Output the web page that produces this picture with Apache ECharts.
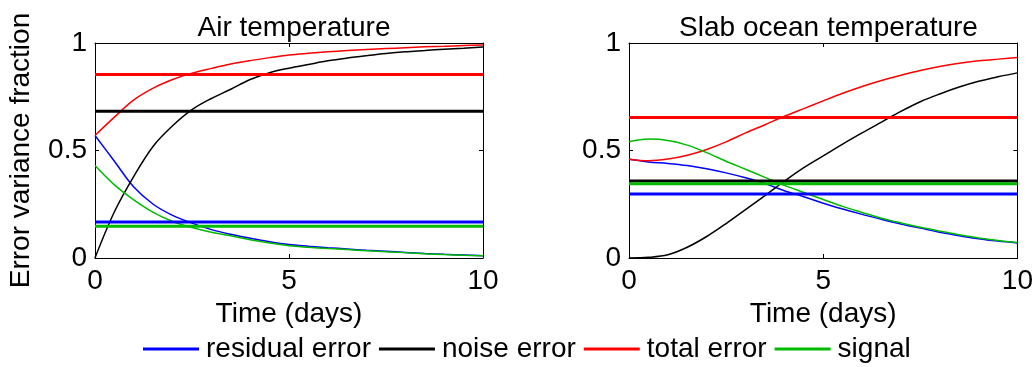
<!DOCTYPE html>
<html>
<head>
<meta charset="utf-8">
<script src="https://cdn.jsdelivr.net/npm/echarts@6/dist/echarts.min.js"></script>
<style>
  html, body { margin: 0; padding: 0; background: #ffffff; }
  #chart { width: 1036px; height: 367px; }
</style>
</head>
<body>
<div id="chart"></div>
<script>
// Forecast time (days)
const days = [0, 0.5, 1, 1.5, 2, 2.5, 3, 3.5, 4, 4.5, 5, 5.5, 6, 6.5, 7, 7.5, 8, 8.5, 9, 9.5, 10];

// Air temperature: error variance fractions
const airResidual = [0.57, 0.45, 0.33, 0.25, 0.198, 0.162, 0.132, 0.11, 0.092, 0.076, 0.063, 0.055, 0.048, 0.042, 0.036, 0.031, 0.026, 0.021, 0.017, 0.014, 0.011];
const airNoise    = [0, 0.215, 0.38, 0.52, 0.615, 0.69, 0.742, 0.785, 0.83, 0.862, 0.883, 0.9, 0.917, 0.93, 0.941, 0.951, 0.959, 0.965, 0.971, 0.976, 0.981];
const airTotal    = [0.57, 0.655, 0.735, 0.79, 0.83, 0.86, 0.882, 0.902, 0.918, 0.932, 0.944, 0.952, 0.959, 0.965, 0.97, 0.974, 0.978, 0.982, 0.985, 0.988, 0.991];
const airSignal   = [0.43, 0.34, 0.27, 0.212, 0.17, 0.142, 0.12, 0.103, 0.085, 0.07, 0.057, 0.05, 0.044, 0.039, 0.034, 0.029, 0.025, 0.02, 0.016, 0.013, 0.011];
// Time-mean levels: residual, noise, total, signal
const airMeans    = [0.168, 0.683, 0.853, 0.148];

// Slab ocean temperature: error variance fractions
const oceanResidual = [0.459, 0.447, 0.44, 0.43, 0.415, 0.396, 0.373, 0.346, 0.313, 0.285, 0.255, 0.228, 0.203, 0.18, 0.158, 0.139, 0.12, 0.104, 0.09, 0.079, 0.07];
const oceanNoise    = [0, 0.003, 0.015, 0.05, 0.1, 0.16, 0.225, 0.29, 0.357, 0.42, 0.475, 0.53, 0.582, 0.632, 0.682, 0.727, 0.763, 0.795, 0.822, 0.843, 0.861];
const oceanTotal    = [0.459, 0.452, 0.46, 0.478, 0.505, 0.54, 0.582, 0.62, 0.659, 0.695, 0.731, 0.766, 0.798, 0.826, 0.85, 0.872, 0.891, 0.906, 0.917, 0.925, 0.932];
const oceanSignal   = [0.541, 0.553, 0.547, 0.525, 0.49, 0.45, 0.413, 0.375, 0.338, 0.305, 0.272, 0.24, 0.212, 0.185, 0.163, 0.143, 0.125, 0.108, 0.093, 0.081, 0.072];
const oceanMeans    = [0.298, 0.358, 0.654, 0.345];

const seriesNames  = ['residual error', 'noise error', 'total error', 'signal'];
const seriesColors = ['#0000ff', '#000000', '#ff0000', '#00bb00'];
const panelTitles  = ['Air temperature', 'Slab ocean temperature'];
const xTicks = { min: 0, max: 10, interval: 5 };
const yTicks = { min: 0, max: 1, interval: 0.5 };

const FONT = 'Liberation Sans, Arial, Helvetica, sans-serif';

const panels = [
  { curves: [airResidual, airNoise, airTotal, airSignal], means: airMeans },
  { curves: [oceanResidual, oceanNoise, oceanTotal, oceanSignal], means: oceanMeans }
];

const grids = [
  { left: 95, top: 43, width: 388, height: 215 },
  { left: 629, top: 43, width: 389, height: 215 }
];

const axisLine = { show: true, onZero: false, lineStyle: { color: '#000', width: 1 } };
const tickIn = { show: true, inside: true, length: 4, lineStyle: { color: '#000', width: 1 } };
const labelStyle = { color: '#000', fontFamily: FONT, fontSize: 28 };

const xAxes = [], yAxes = [], series = [];
grids.forEach((g, i) => {
  xAxes.push({
    type: 'value', gridIndex: i, position: 'bottom', ...xTicks,
    axisLine, axisTick: tickIn, splitLine: { show: false },
    axisLabel: { ...labelStyle, margin: 9, showMinLabel: true, showMaxLabel: true },
    name: 'Time (days)', nameLocation: 'middle', nameGap: 34,
    nameTextStyle: { ...labelStyle }
  });
  xAxes.push({
    type: 'value', gridIndex: i, position: 'top', ...xTicks,
    axisLine, axisTick: tickIn, splitLine: { show: false }, axisLabel: { show: false }
  });
  yAxes.push({
    type: 'value', gridIndex: i, position: 'left', ...yTicks,
    axisLine, axisTick: tickIn, splitLine: { show: false },
    axisLabel: { ...labelStyle, margin: 8, showMinLabel: true, showMaxLabel: true },
    name: i === 0 ? 'Error variance fraction' : '',
    nameLocation: 'middle', nameGap: 60, nameRotate: 90,
    nameTextStyle: { ...labelStyle }
  });
  yAxes.push({
    type: 'value', gridIndex: i, position: 'right', ...yTicks,
    axisLine, axisTick: tickIn, splitLine: { show: false }, axisLabel: { show: false }
  });

  const p = panels[i];
  p.curves.forEach((vals, k) => {
    series.push({
      name: seriesNames[k], type: 'line',
      xAxisIndex: i * 2, yAxisIndex: i * 2,
      data: days.map((d, j) => [d, vals[j]]),
      showSymbol: false, symbol: 'none',
      smooth: 0.35,
      lineStyle: { color: seriesColors[k], width: 1.5 },
      itemStyle: { color: seriesColors[k] },
      silent: true, z: 2
    });
  });
  p.means.forEach((v, k) => {
    series.push({
      name: seriesNames[k], type: 'line',
      xAxisIndex: i * 2, yAxisIndex: i * 2,
      data: [[xTicks.min, v], [xTicks.max, v]],
      showSymbol: false, symbol: 'none',
      lineStyle: { color: seriesColors[k], width: 3 },
      itemStyle: { color: seriesColors[k] },
      silent: true, z: 3
    });
  });
});

const chart = echarts.init(document.getElementById('chart'), null, { renderer: 'canvas' });
chart.setOption({
  backgroundColor: '#ffffff',
  animation: false,
  title: panelTitles.map((t, i) => ({
    text: t,
    left: grids[i].left + grids[i].width / 2,
    textAlign: 'center',
    top: 9,
    textStyle: { color: '#000', fontFamily: FONT, fontSize: 28, fontWeight: 'normal' }
  })),
  legend: {
    data: seriesNames.map((n, k) => ({ name: n, icon: 'rect', itemStyle: { color: seriesColors[k] } })),
    left: 143, top: 335, padding: 0,
    itemWidth: 56, itemHeight: 3, itemGap: 8,
    textStyle: { color: '#000', fontFamily: FONT, fontSize: 28, padding: [0, 0, 0, 2] },
    selectedMode: false
  },
  grid: grids,
  xAxis: xAxes,
  yAxis: yAxes,
  series
});
</script>
</body>
</html>
